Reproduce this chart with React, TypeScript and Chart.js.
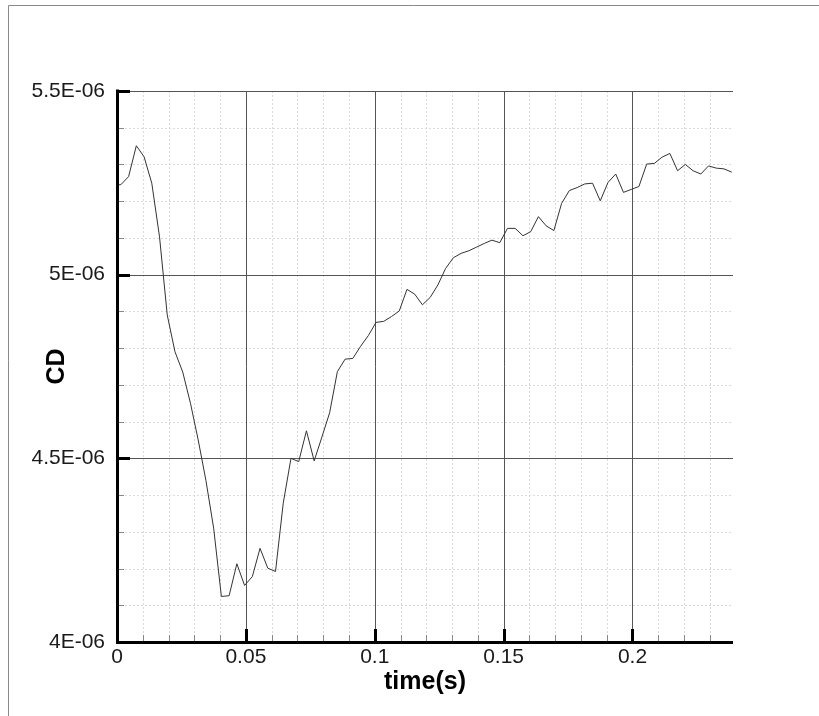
import React, { useEffect, useRef } from "react";
import { Chart, registerables } from "chart.js";

Chart.register(...registerables);

const timeS = [
  0, 0.0015, 0.0045, 0.0075, 0.0105, 0.0135, 0.0165, 0.0195, 0.0225, 0.0255,
  0.0285, 0.0315, 0.0345, 0.0375, 0.0405, 0.0435, 0.0465, 0.0495, 0.0525, 0.0555,
  0.0585, 0.0615, 0.0645, 0.0675, 0.0705, 0.0735, 0.0765, 0.0795, 0.0825, 0.0855,
  0.0885, 0.0915, 0.0945, 0.0975, 0.1005, 0.1035, 0.1065, 0.1095, 0.1125, 0.1155,
  0.1185, 0.1215, 0.1245, 0.1275, 0.1305, 0.1335, 0.1365, 0.1395, 0.1425, 0.1455,
  0.1485, 0.1515, 0.1545, 0.1575, 0.1605, 0.1635, 0.1665, 0.1695, 0.1725, 0.1755,
  0.1785, 0.1815, 0.1845, 0.1875, 0.1905, 0.1935, 0.1965, 0.1995, 0.2025, 0.2055,
  0.2085, 0.2115, 0.2145, 0.2175, 0.2205, 0.2235, 0.2265, 0.2295, 0.2325, 0.2355,
  0.2385,
];

// CD values in units of 1E-06
const cdE6 = [
  5.244, 5.245, 5.267, 5.351, 5.321, 5.249, 5.103, 4.89, 4.79, 4.735,
  4.65, 4.55, 4.44, 4.31, 4.124, 4.126, 4.213, 4.154, 4.178, 4.255,
  4.201, 4.192, 4.378, 4.5, 4.491, 4.575, 4.493, 4.558, 4.624, 4.736,
  4.77, 4.772, 4.805, 4.834, 4.87, 4.873, 4.886, 4.901, 4.96, 4.947,
  4.918, 4.938, 4.972, 5.017, 5.046, 5.058, 5.065, 5.075, 5.085, 5.094,
  5.087, 5.126, 5.126, 5.106, 5.117, 5.158, 5.133, 5.12, 5.194, 5.229,
  5.237, 5.247, 5.249, 5.201, 5.251, 5.274, 5.224, 5.232, 5.24, 5.301,
  5.303, 5.32, 5.33, 5.283, 5.3, 5.283, 5.274, 5.296, 5.29, 5.288,
  5.279,
];

const xMajorTicks = [0, 0.05, 0.1, 0.15, 0.2];
const xTickLabels = ["0", "0.05", "0.1", "0.15", "0.2"];
const yMajorTicks = [4, 4.5, 5, 5.5];
const yTickLabels = ["4E-06", "4.5E-06", "5E-06", "5.5E-06"];
const xMinorStep = 0.01;
const yMinorStep = 0.1;
const xMin = 0;
const xMax = 0.239;
const yMin = 4;
const yMax = 5.5;

const FONT = "'Liberation Sans', Arial, Helvetica, sans-serif";

function isMajor(v: number, majors: number[]) {
  return majors.some((m) => Math.abs(m - v) < 1e-9);
}

export default function App() {
  const ref = useRef<HTMLCanvasElement | null>(null);

  useEffect(() => {
    if (!ref.current) return;

    const framePlugin = {
      id: "frame",
      afterDraw(chart: any) {
        const ctx = chart.ctx as CanvasRenderingContext2D;
        ctx.save();
        ctx.strokeStyle = "#8a8a8a";
        ctx.lineWidth = 1;
        ctx.beginPath();
        ctx.moveTo(8.5, 716);
        ctx.lineTo(8.5, 5.5);
        ctx.lineTo(819, 5.5);
        ctx.stroke();
        ctx.restore();
      },
    };

    const gridPlugin = {
      id: "tecgrid",
      beforeDatasetsDraw(chart: any) {
        const ctx = chart.ctx as CanvasRenderingContext2D;
        const { left, right, top, bottom } = chart.chartArea;
        const xs = chart.scales.x;
        const ys = chart.scales.y;
        ctx.save();
        ctx.lineWidth = 1;
        // minor dotted grid
        ctx.strokeStyle = "#dadada";
        ctx.setLineDash([2, 2]);
        ctx.beginPath();
        for (let i = 1; xMin + i * xMinorStep < xMax; i++) {
          const v = xMin + i * xMinorStep;
          if (isMajor(v, xMajorTicks)) continue;
          const px = Math.round(xs.getPixelForValue(v)) + 0.5;
          ctx.moveTo(px, top);
          ctx.lineTo(px, bottom);
        }
        for (let i = 1; yMin + i * yMinorStep < yMax - 1e-9; i++) {
          const v = yMin + i * yMinorStep;
          if (isMajor(v, yMajorTicks)) continue;
          const py = Math.round(ys.getPixelForValue(v)) + 0.5;
          ctx.moveTo(left, py);
          ctx.lineTo(right, py);
        }
        ctx.stroke();
        ctx.setLineDash([]);
        // major solid grid
        ctx.strokeStyle = "#555";
        ctx.beginPath();
        xMajorTicks.forEach((v) => {
          if (v === xMin) return;
          const px = Math.round(xs.getPixelForValue(v)) + 0.5;
          ctx.moveTo(px, top);
          ctx.lineTo(px, bottom);
        });
        yMajorTicks.forEach((v) => {
          if (v === yMin) return;
          const py = Math.round(ys.getPixelForValue(v)) + 0.5;
          ctx.moveTo(left, py);
          ctx.lineTo(right, py);
        });
        ctx.stroke();
        ctx.restore();
      },
      afterDatasetsDraw(chart: any) {
        const ctx = chart.ctx as CanvasRenderingContext2D;
        const { left, right, top, bottom } = chart.chartArea;
        const xs = chart.scales.x;
        const ys = chart.scales.y;
        ctx.save();
        // minor ticks
        ctx.strokeStyle = "#888";
        ctx.lineWidth = 1;
        ctx.beginPath();
        for (let i = 1; xMin + i * xMinorStep < xMax; i++) {
          const v = xMin + i * xMinorStep;
          if (isMajor(v, xMajorTicks)) continue;
          const px = Math.round(xs.getPixelForValue(v)) + 0.5;
          ctx.moveTo(px, bottom);
          ctx.lineTo(px, bottom - 7);
        }
        for (let i = 1; yMin + i * yMinorStep < yMax - 1e-9; i++) {
          const v = yMin + i * yMinorStep;
          if (isMajor(v, yMajorTicks)) continue;
          const py = Math.round(ys.getPixelForValue(v)) + 0.5;
          ctx.moveTo(left, py);
          ctx.lineTo(left + 7, py);
        }
        ctx.stroke();
        // major ticks
        ctx.strokeStyle = "#000";
        ctx.lineWidth = 3;
        ctx.beginPath();
        xMajorTicks.forEach((v) => {
          const px = Math.round(xs.getPixelForValue(v)) + 0.5;
          ctx.moveTo(px, bottom);
          ctx.lineTo(px, bottom - 13);
        });
        yMajorTicks.forEach((v) => {
          const py = Math.round(ys.getPixelForValue(v)) + 0.5;
          ctx.moveTo(left, py);
          ctx.lineTo(left + 13, py);
        });
        ctx.stroke();
        // axes
        ctx.beginPath();
        ctx.moveTo(left + 0.5, top - 1.5);
        ctx.lineTo(left + 0.5, bottom + 1.5);
        ctx.moveTo(left - 1, bottom + 0.5);
        ctx.lineTo(right, bottom + 0.5);
        ctx.stroke();
        ctx.restore();
      },
    };

    const chart = new Chart(ref.current, {
      type: "line",
      data: {
        datasets: [
          {
            data: timeS.map((t, i) => ({ x: t, y: cdE6[i] })),
            borderColor: "#333",
            borderWidth: 1,
            pointRadius: 0,
            tension: 0,
            fill: false,
          },
        ],
      },
      options: {
        animation: false,
        responsive: false,
        maintainAspectRatio: false,
        events: [],
        layout: { padding: { top: 91, right: 86, left: 0, bottom: 0 } },
        plugins: { legend: { display: false }, tooltip: { enabled: false } },
        scales: {
          x: {
            type: "linear",
            min: xMin,
            max: xMax,
            afterFit(s: any) {
              s.height = 74;
            },
            afterBuildTicks(s: any) {
              s.ticks = xMajorTicks.map((v) => ({ value: v }));
            },
            ticks: {
              callback: (_v: any, i: number) => xTickLabels[i],
              font: { family: FONT, size: 21 },
              color: "#1a1a1a",
              padding: 3,
              maxRotation: 0,
              autoSkip: false,
            },
            grid: { display: false, drawTicks: false },
            border: { display: false },
            title: {
              display: true,
              text: "time(s)",
              font: { family: FONT, size: 25, weight: "bold" },
              color: "#000",
              padding: { top: 0, bottom: 18.5 },
            },
          },
          y: {
            type: "linear",
            min: yMin,
            max: yMax,
            afterFit(s: any) {
              s.width = 117;
            },
            afterBuildTicks(s: any) {
              s.ticks = yMajorTicks.map((v) => ({ value: v }));
            },
            ticks: {
              callback: (_v: any, i: number) => yTickLabels[i],
              font: { family: FONT, size: 21 },
              color: "#1a1a1a",
              padding: 12,
              autoSkip: false,
            },
            grid: { display: false, drawTicks: false },
            border: { display: false },
            title: {
              display: true,
              text: "CD",
              font: { family: FONT, size: 25, weight: "bold" },
              color: "#000",
              padding: { top: 42.5, bottom: 0 },
            },
          },
        },
      } as any,
      plugins: [gridPlugin, framePlugin],
    });

    return () => chart.destroy();
  }, []);

  return (
    <div
      style={{
        position: "fixed",
        left: 0,
        top: 0,
        width: 819,
        height: 716,
        background: "#fff",
      }}
    >
      <canvas ref={ref} width={819} height={716} style={{ display: "block" }} />
    </div>
  );
}
